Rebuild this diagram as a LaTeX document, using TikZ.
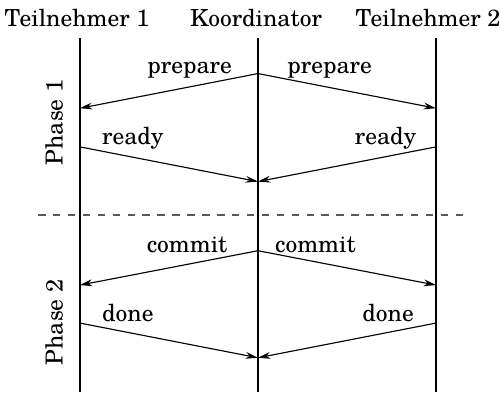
\documentclass[tikz,border=0pt]{standalone}
\usepackage{fontspec}
\setmainfont{TeX Gyre Schola}
\usetikzlibrary{arrows.meta}

\begin{document}
\begin{tikzpicture}[
		font=\fontsize{10.4}{12.5}\selectfont,
		lifeline/.style={line width=0.95pt},
		msg/.style={-{Stealth[length=5.5pt,width=3pt]}, line width=0.5pt},
		lbl/.style={inner sep=0pt},
		phase/.style={rotate=90, inner sep=0pt}
	]
			%%%%% START %%%%%
			
			\useasboundingbox (-4.012, -2.753) rectangle (3.764, 3.344);
			
			% lifelines
			\coordinate (t1top) at (-2.77, 2.75);
			\coordinate (t1bot) at (-2.77, -2.753);
			\coordinate (kotop) at (0, 2.75);
			\coordinate (kobot) at (0, -2.753);
			\coordinate (t2top) at (2.77, 2.75);
			\coordinate (t2bot) at (2.77, -2.753);
			\draw[lifeline] (t1top) -- (t1bot);
			\draw[lifeline] (kotop) -- (kobot);
			\draw[lifeline] (t2top) -- (t2bot);
			
			\node[anchor=base] (t1) at (-2.815, 2.93) {Teilnehmer 1};
			\node[anchor=base] (ko) at (-0.03, 2.93) {Koordinator};
			\node[anchor=base] (t2) at (2.644, 2.93) {Teilnehmer 2};
			
			% phase separator
			\coordinate (sepl) at (-3.42, 0);
			\coordinate (sepr) at (3.25, 0);
			\draw[black!65, line width=0.6pt, dash pattern=on 3.3pt off 3.3pt] (sepl) -- (sepr);
			
			\node[phase] (ph1) at (-3.17, 1.44) {Phase 1};
			\node[phase] (ph2) at (-3.17, -1.67) {Phase 2};
			
			% points on the lifelines
			\coordinate (ko1) at (0, 2.2);
			\coordinate (ko2) at (0, 0.52);
			\coordinate (ko3) at (0, -0.555);
			\coordinate (ko4) at (0, -2.22);
			\coordinate (t1a) at (-2.77, 1.66);
			\coordinate (t1b) at (-2.77, 1.06);
			\coordinate (t1c) at (-2.77, -1.09);
			\coordinate (t1d) at (-2.77, -1.68);
			\coordinate (t2a) at (2.77, 1.66);
			\coordinate (t2b) at (2.77, 1.06);
			\coordinate (t2c) at (2.77, -1.09);
			\coordinate (t2d) at (2.77, -1.68);
			
			% phase 1
			\draw[msg] (ko1) -- (t1a);
			\draw[msg] (ko1) -- (t2a);
			\node[lbl, anchor=base east] (prep1) at (-0.40, 2.2) {prepare};
			\node[lbl, anchor=base west] (prep2) at (0.45, 2.2) {prepare};
			
			\draw[msg] (t1b) -- (ko2);
			\draw[msg] (t2b) -- (ko2);
			\node[lbl, anchor=base west] (ready1) at (-2.43, 1.10) {ready};
			\node[lbl, anchor=base east] (ready2) at (2.47, 1.10) {ready};
			
			% phase 2
			\draw[msg] (ko3) -- (t1c);
			\draw[msg] (ko3) -- (t2c);
			\node[lbl, anchor=base east] (comm1) at (-0.47, -0.58) {commit};
			\node[lbl, anchor=base west] (comm2) at (0.26, -0.58) {commit};
			
			\draw[msg] (t1d) -- (ko4);
			\draw[msg] (t2d) -- (ko4);
			\node[lbl, anchor=base west] (done1) at (-2.43, -1.66) {done};
			\node[lbl, anchor=base east] (done2) at (2.43, -1.66) {done};
			
			%%%%% END %%%%%
\end{tikzpicture}
\end{document}
